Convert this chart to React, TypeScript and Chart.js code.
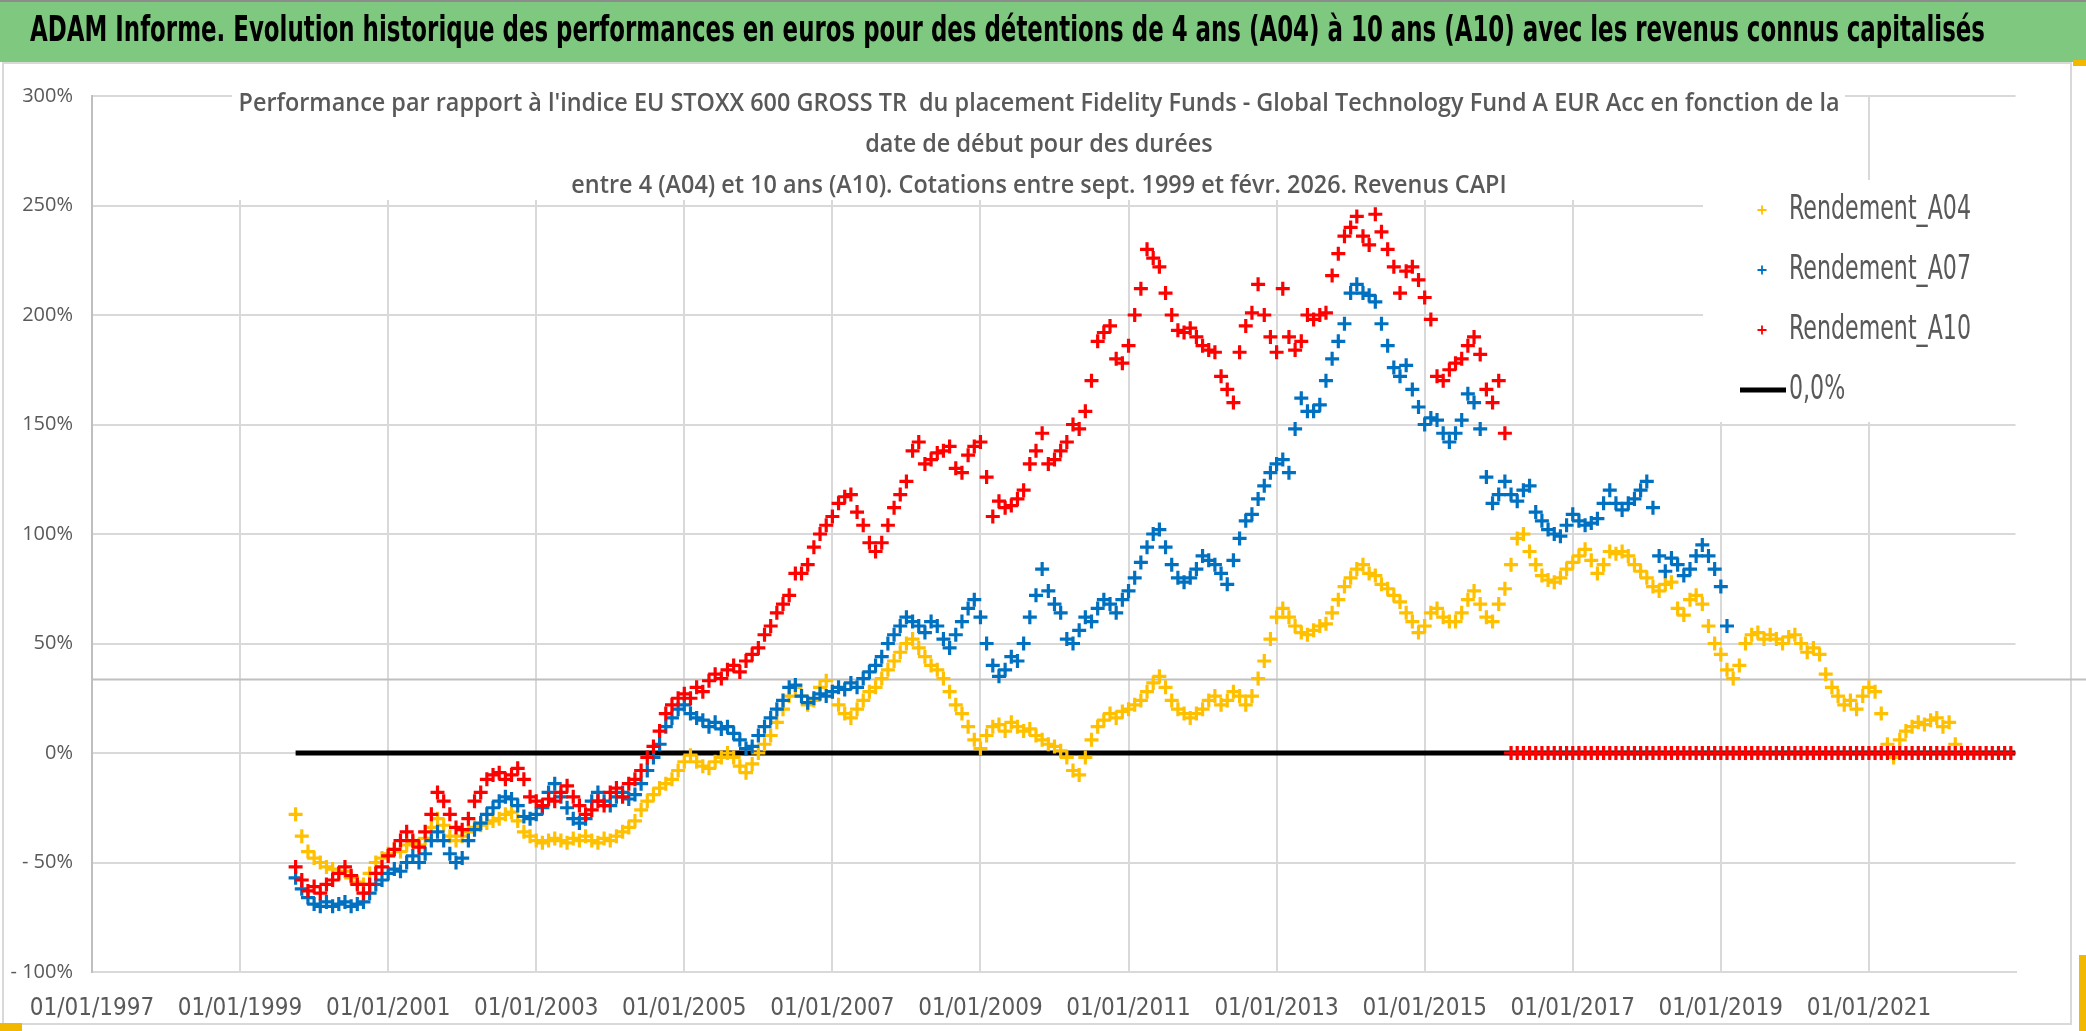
import React, { useEffect, useRef } from 'react';
import { Chart, registerables } from 'chart.js';

Chart.register(...registerables);

// ---------------- DATA ----------------
const MAIN_TITLE =
  "ADAM Informe. Evolution historique des performances en euros pour des détentions de 4 ans (A04) à 10 ans (A10) avec les revenus connus capitalisés";
const SUBTITLE_LINES = [
  "Performance par rapport à l'indice EU STOXX 600 GROSS TR  du placement Fidelity Funds - Global Technology Fund A EUR Acc en fonction de la",
  'date de début pour des durées',
  'entre 4 (A04) et 10 ans (A10). Cotations entre sept. 1999 et févr. 2026. Revenus CAPI',
];
const SERIES_NAMES = ['Rendement_A04', 'Rendement_A07', 'Rendement_A10'];
const ZERO_LABEL = '0,0%';

// monthly start dates (decimal years), first value = Oct 1999
const START_YEAR = 1999.75;
const MONTH = 1 / 12;

// Rendement A04 (%), monthly from 1999.75
const A04 = [
  -28, -38, -45,
  -48, -50, -52, -53, -55, -54, -57, -59, -60, -55, -50, -48,
  -46, -44, -45, -42, -41, -42, -39, -34, -30, -33, -38, -40,
  -38, -36, -34, -33, -32, -31, -30, -28, -27, -31, -36, -38,
  -40, -41, -40, -39, -40, -41, -39, -40, -38, -40, -41, -39,
  -40, -38, -36, -34, -31, -26, -22, -19, -16, -14, -12, -8,
  -4, -1, -4, -6, -7, -4, -2, 0, -2, -6, -9, -5,
  0, 4, 8, 14, 20, 26, 30, 26, 22, 24, 30, 33,
  28, 22, 18, 16, 20, 24, 28, 30, 34, 38, 42, 46,
  50, 52, 48, 44, 40, 38, 34, 28, 22, 18, 12, 6,
  2, 8, 12, 13, 10, 14, 12, 10, 11, 8, 6, 4,
  3, 1, -2, -8, -10, -2, 6, 12, 15, 18, 16, 19,
  20, 22, 24, 28, 32, 35, 30, 24, 20, 18, 16, 18,
  20, 24, 26, 22, 24, 28, 26, 22, 26, 34, 42, 52,
  62, 66, 62, 58, 55, 54, 56, 58, 59, 64, 70, 76,
  80, 84, 86, 82, 81, 77, 75, 72, 69, 64, 60, 55,
  58, 64, 66, 62, 60, 60, 64, 70, 74, 68, 62, 60,
  68, 75, 86, 98, 100, 92, 86, 81, 79, 78, 80, 84,
  87, 90, 93, 88, 82, 86, 92, 91, 92, 90, 86, 83,
  80, 76, 74, 77, 78, 66, 63, 70, 72, 68, 58, 50,
  45, 38, 34, 40, 50, 54, 55, 52, 54, 52, 50, 53,
  54, 50, 46, 48, 45, 36, 30, 26, 22, 24, 20, 26,
  30, 28, 18, 4, -2, 6, 10, 12, 14, 13, 15, 16,
  12, 14, 4,
];

// Rendement A07 (%), monthly from 1999.75
const A07 = [
  -57, -62, -66,
  -69, -70, -68, -70, -69, -68, -70, -69, -68, -64, -60, -58,
  -55, -53, -54, -50, -47, -50, -46, -40, -36, -40, -46, -50,
  -48, -40, -35, -32, -28, -25, -22, -20, -21, -24, -29, -30,
  -28, -25, -18, -14, -20, -25, -30, -32, -30, -22, -18, -22,
  -24, -20, -18, -21, -19, -14, -8, -2, 4, 12, 16, 20,
  22, 18, 16, 15, 12, 14, 11, 12, 9, 6, 2, 3,
  8, 12, 16, 20, 24, 30, 31, 26, 23, 25, 27, 26,
  28, 30, 29, 32, 30, 34, 37, 40, 44, 50, 54, 58,
  62, 60, 58, 55, 60, 58, 52, 48, 54, 60, 66, 70,
  62, 50, 40, 35, 38, 44, 42, 50, 62, 72, 84, 74,
  68, 64, 52, 50, 56, 62, 60, 66, 70, 68, 64, 70,
  74, 80, 87, 94, 100, 102, 94, 86, 80, 78, 80, 84,
  90, 88, 86, 82, 77, 88, 98, 106, 109, 116, 122, 128,
  132, 134, 128, 148, 162, 156, 156, 159, 170, 180, 188, 196,
  210, 214, 210, 209, 206, 196, 186, 176, 172, 177, 166, 158,
  150, 153, 152, 146, 142, 146, 152, 164, 160, 148, 126, 114,
  118, 124, 118, 115, 120, 122, 110, 106, 102, 100, 99, 104,
  109, 106, 104, 105, 107, 114, 120, 114, 111, 114, 116, 120,
  124, 112, 90, 83, 89, 86, 81, 84, 90, 95, 90, 84,
  76, 58,
];

// Rendement A10 (%), monthly from 1999.75
const A10 = [
  -52, -58, -63,
  -61, -64, -60, -58, -55, -52, -56, -60, -64, -60, -55, -52,
  -47, -44, -40, -36, -40, -43, -36, -28, -18, -22, -28, -34,
  -35, -30, -22, -18, -12, -10, -9, -12, -10, -7, -12, -20,
  -22, -24, -21, -22, -18, -15, -20, -24, -28, -26, -22, -24,
  -18, -16, -20, -14, -12, -8, -2, 3, 10, 18, 22, 25,
  27, 25, 30, 28, 33, 36, 34, 38, 40, 37, 42, 45,
  48, 54, 58, 64, 68, 72, 82, 82, 86, 94, 100, 104,
  108, 114, 117, 118, 110, 104, 96, 92, 96, 104, 112, 118,
  124, 138, 142, 132, 134, 137, 138, 140, 130, 128, 136, 140,
  142, 126, 108, 115, 112, 113, 116, 120, 132, 138, 146, 132,
  134, 138, 142, 150, 148, 156, 170, 188, 192, 195, 180, 178,
  186, 200, 212, 230, 226, 222, 210, 200, 193, 192, 194, 190,
  186, 184, 183, 172, 166, 160, 183, 195, 201, 214, 200, 190,
  183, 212, 190, 184, 188, 200, 198, 200, 201, 218, 228, 236,
  240, 245, 236, 232, 246, 238, 230, 222, 210, 220, 222, 216,
  208, 198, 172, 170, 175, 178, 180, 186, 190, 182, 166, 160,
  170, 146,
  // after the last 10-year window: values are 0
  0, 0, 0, 0, 0, 0, 0, 0, 0, 0,
  0, 0, 0, 0, 0, 0, 0, 0, 0, 0, 0, 0,
  0, 0, 0, 0, 0, 0, 0, 0, 0, 0, 0, 0,
  0, 0, 0, 0, 0, 0, 0, 0, 0, 0, 0, 0,
  0, 0, 0, 0, 0, 0, 0, 0, 0, 0, 0, 0,
  0, 0, 0, 0, 0, 0, 0, 0, 0, 0, 0, 0,
  0, 0, 0, 0, 0, 0, 0, 0, 0, 0, 0, 0,
];

// 0,0% reference line (start / end dates)
const ZERO_LINE_X = [1999.75, 2022.98];
const ZERO_LINE_Y = [0, 0];

const X_MIN = 1997;
const X_MAX = 2022.98;
const X_TICKS = [1997, 1999, 2001, 2003, 2005, 2007, 2009, 2011, 2013, 2015, 2017, 2019, 2021];
const Y_MIN = -100;
const Y_MAX = 300;
const Y_TICKS = [-100, -50, 0, 50, 100, 150, 200, 250, 300];
const REF_LINE_VALUE = 33.6;

// ---------------- STYLE ----------------
const W = 2086;
const H = 1031;
const COLORS = ['#FFC000', '#0070C0', '#FF0000'];
const NARROW = '"Liberation Sans Narrow", "DejaVu Sans Condensed", "Arial Narrow", sans-serif';
const GRAY_TEXT = '#595959';
const BAR_H = 62;

const toPoints = (vals: number[]) => vals.map((v, i) => ({ x: START_YEAR + i * MONTH, y: v }));

const decorPlugin = {
  id: 'decor',
  beforeDraw(chart: any) {
    const ctx = chart.ctx as CanvasRenderingContext2D;
    ctx.save();
    ctx.fillStyle = '#ffffff';
    ctx.fillRect(0, 0, W, H);
    // chart frame
    ctx.strokeStyle = '#d9d9d9';
    ctx.lineWidth = 2;
    ctx.strokeRect(3, BAR_H + 1, 2068, 1023 - BAR_H);
    // green title bar
    ctx.fillStyle = '#7ec87f';
    ctx.fillRect(0, 0, W, BAR_H);
    ctx.strokeStyle = '#8c8c8c';
    ctx.lineWidth = 2;
    ctx.beginPath();
    ctx.moveTo(0, 1);
    ctx.lineTo(W, 1);
    ctx.stroke();
    ctx.font = `bold 35px ${NARROW}`;
    ctx.fillStyle = '#000000';
    ctx.textBaseline = 'middle';
    ctx.textAlign = 'left';
    const tw = ctx.measureText(MAIN_TITLE).width;
    ctx.translate(30, 32);
    ctx.scale(1955 / tw, 1);
    ctx.fillText(MAIN_TITLE, 0, 0);
    ctx.restore();
    // selection handles
    ctx.save();
    ctx.fillStyle = '#f2b800';
    ctx.fillRect(0, 1023, 22, 8);
    ctx.fillRect(2079, 955, 7, 76);
    ctx.fillRect(2073, BAR_H - 2, 13, 6);
    ctx.restore();
  },
  beforeDatasetsDraw(chart: any) {
    const ctx = chart.ctx as CanvasRenderingContext2D;
    const area = chart.chartArea;
    ctx.save();
    // full-width reference line
    const yRef = chart.scales.y.getPixelForValue(REF_LINE_VALUE);
    ctx.strokeStyle = '#bfbfbf';
    ctx.lineWidth = 2;
    ctx.beginPath();
    ctx.moveTo(area.left, yRef);
    ctx.lineTo(W, yRef);
    ctx.stroke();
    // white boxes behind title and legend
    ctx.fillStyle = '#ffffff';
    ctx.fillRect(232, BAR_H + 3, 1613, 200 - BAR_H - 3);
    ctx.fillRect(1703, 180, 314, 242);
    // chart title
    ctx.fillStyle = GRAY_TEXT;
    ctx.font = `600 25px "Open Sans", sans-serif`;
    ctx.textBaseline = 'middle';
    ctx.textAlign = 'center';
    const w0 = ctx.measureText(SUBTITLE_LINES[0]).width;
    const k = 1601 / w0;
    const ys = [104, 145, 186];
    SUBTITLE_LINES.forEach((t, i) => {
      ctx.save();
      ctx.translate(1039, ys[i]);
      ctx.scale(k, 1);
      ctx.fillText(t, 0, 0);
      ctx.restore();
    });
    ctx.restore();
  },
  afterDraw(chart: any) {
    const ctx = chart.ctx as CanvasRenderingContext2D;
    ctx.save();
    ctx.font = `33px ${NARROW}`;
    ctx.textBaseline = 'middle';
    ctx.textAlign = 'left';
    ctx.fillStyle = GRAY_TEXT;
    const k = 182 / ctx.measureText(SERIES_NAMES[0]).width;
    const labels = [...SERIES_NAMES, ZERO_LABEL];
    labels.forEach((lab, i) => {
      const y = 210 + i * 60;
      if (i < 3) {
        ctx.strokeStyle = COLORS[i];
        ctx.lineWidth = 1.8;
        ctx.beginPath();
        ctx.moveTo(1762 - 4.5, y);
        ctx.lineTo(1762 + 4.5, y);
        ctx.moveTo(1762, y - 4.5);
        ctx.lineTo(1762, y + 4.5);
        ctx.stroke();
      } else {
        ctx.strokeStyle = '#000000';
        ctx.lineWidth = 5;
        ctx.beginPath();
        ctx.moveTo(1740, y);
        ctx.lineTo(1786, y);
        ctx.stroke();
      }
      ctx.save();
      ctx.translate(1789, y);
      ctx.scale(k, 1);
      ctx.fillText(lab, 0, 0);
      ctx.restore();
    });
    ctx.restore();
  },
};

export default function App() {
  const ref = useRef<HTMLCanvasElement | null>(null);
  useEffect(() => {
    if (!ref.current) return;
    const scatterStyle = (i: number) => ({
      pointStyle: 'cross',
      pointRadius: 7,
      pointBorderWidth: 3.2,
      borderColor: COLORS[i],
      backgroundColor: COLORS[i],
      showLine: false,
    });
    const chart = new Chart(ref.current, {
      type: 'scatter',
      data: {
        datasets: [
          { label: SERIES_NAMES[0], data: toPoints(A04), order: 3, ...scatterStyle(0) },
          { label: SERIES_NAMES[1], data: toPoints(A07), order: 2, ...scatterStyle(1) },
          { label: SERIES_NAMES[2], data: toPoints(A10), order: 1, ...scatterStyle(2) },
          {
            label: ZERO_LABEL,
            data: ZERO_LINE_X.map((x, i) => ({ x, y: ZERO_LINE_Y[i] })),
            order: 4,
            showLine: true,
            borderColor: '#000000',
            backgroundColor: '#000000',
            borderWidth: 5,
            pointRadius: 0,
          },
        ],
      } as any,
      options: {
        animation: false,
        responsive: false,
        events: [],
        layout: { padding: { left: 0, right: 70.5, top: 96, bottom: 0 } },
        plugins: {
          legend: { display: false },
          tooltip: { enabled: false },
          title: { display: false },
        },
        scales: {
          x: {
            type: 'linear',
            min: X_MIN,
            max: X_MAX,
            afterBuildTicks: (s: any) => {
              s.ticks = X_TICKS.map((v) => ({ value: v }));
            },
            afterFit: (s: any) => {
              s.height = 59;
            },
            grid: { color: '#d9d9d9', lineWidth: 2, drawTicks: false },
            border: { display: true, color: '#d9d9d9', width: 2 },
            ticks: {
              font: { family: NARROW, size: 24 },
              color: GRAY_TEXT,
              padding: 22,
              maxRotation: 0,
              autoSkip: false,
              callback: (v: any) => '01/01/' + v,
            },
          },
          y: {
            type: 'linear',
            min: Y_MIN,
            max: Y_MAX,
            afterBuildTicks: (s: any) => {
              s.ticks = Y_TICKS.map((v) => ({ value: v }));
            },
            afterFit: (s: any) => {
              s.width = 92;
            },
            grid: { color: '#d9d9d9', lineWidth: 2, drawTicks: false },
            border: { display: true, color: '#bfbfbf', width: 2 },
            ticks: {
              font: { family: '"Open Sans", sans-serif', size: 20 },
              color: GRAY_TEXT,
              padding: 19,
              callback: (v: any) => (v < 0 ? '- ' + Math.abs(v) + '%' : v + '%'),
            },
          },
        },
      } as any,
      plugins: [decorPlugin],
    });
    return () => chart.destroy();
  }, []);
  return (
    <div style={{ position: 'fixed', left: 0, top: 0, width: W, height: H, background: '#fff' }}>
      <canvas ref={ref} width={W} height={H} style={{ display: 'block' }} />
    </div>
  );
}
